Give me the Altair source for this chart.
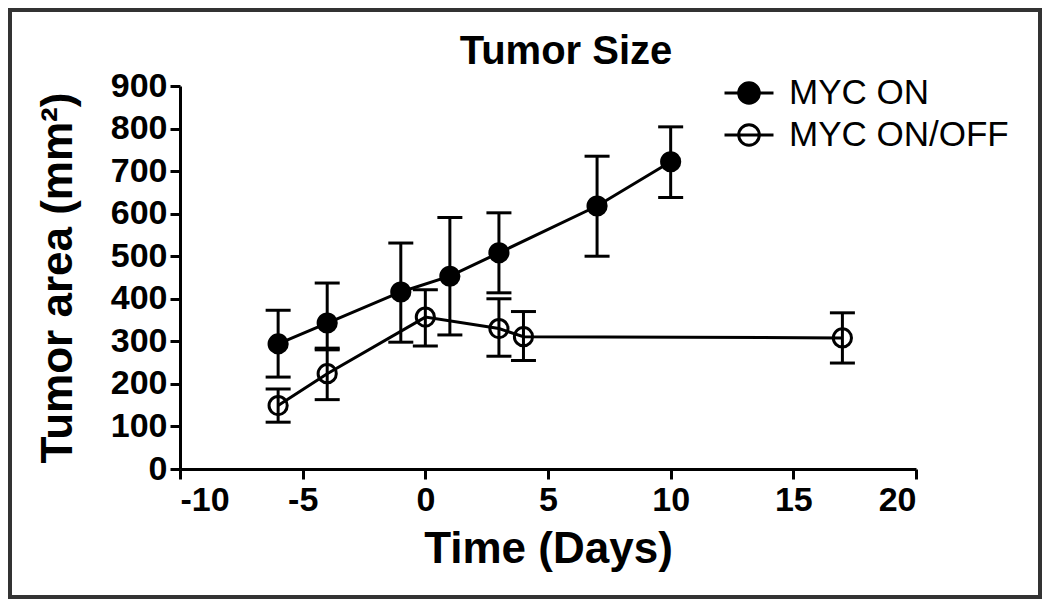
import altair as alt
import pandas as pd

# ---- data ----
on_days = [-6, -4, -1, 1, 3, 7, 10]
on_mean = [294, 343, 416, 453, 508, 618, 722]
on_upper = [373, 437, 531, 591, 602, 735, 804]
on_lower = [216, 284, 298, 315, 414, 500, 638]

off_days = [-6, -4, 0, 3, 4, 17]
off_mean = [149, 224, 357, 330, 311, 308]
off_upper = [188, 280, 421, 400, 370, 367]
off_lower = [110, 163, 289, 265, 255, 249]

series_names = ["MYC ON", "MYC ON/OFF"]
x_ticks = [-10, -5, 0, 5, 10, 15, 20]
y_ticks = [0, 100, 200, 300, 400, 500, 600, 700, 800, 900]

rows = []
for d, m, u, l in zip(on_days, on_mean, on_upper, on_lower):
    rows.append({"series": series_names[0], "day": d, "mean": m, "upper": u, "lower": l})
for d, m, u, l in zip(off_days, off_mean, off_upper, off_lower):
    rows.append({"series": series_names[1], "day": d, "mean": m, "upper": u, "lower": l})
df = pd.DataFrame(rows)

FONT = "Liberation Sans"
W, H = 736, 383

x_enc = alt.X(
    "day:Q",
    scale=alt.Scale(domain=[-10, 20], nice=False, zero=False),
    axis=alt.Axis(values=x_ticks, title="Time (Days)",
                  labelExpr="toString(datum.value)"),
)
y_scale = alt.Scale(domain=[0, 900], nice=False)

base = alt.Chart(df)

err = base.mark_rule(color="black", strokeWidth=3, opacity=1).encode(
    x=x_enc,
    y=alt.Y("lower:Q", scale=y_scale,
            axis=alt.Axis(values=y_ticks, title="Tumor area (mm²)")),
    y2="upper:Q",
)
cap_hi = base.mark_tick(color="black", orient="horizontal", size=25, thickness=3,
                        opacity=1).encode(x="day:Q", y="upper:Q")
cap_lo = base.mark_tick(color="black", orient="horizontal", size=25, thickness=3,
                        opacity=1).encode(x="day:Q", y="lower:Q")
lines = base.mark_line(color="black", strokeWidth=3).encode(
    x="day:Q", y="mean:Q", detail="series:N"
)

legend_symbol = (
    "M-1,0 L1,0 "
    "M-0.42,0 A0.42,0.42 0 1,1 0.42,0 A0.42,0.42 0 1,1 -0.42,0 Z"
)

points = base.mark_point(
    shape="circle", size=330, filled=True, stroke="black", strokeWidth=3, opacity=1
).encode(
    x="day:Q",
    y="mean:Q",
    fill=alt.Fill(
        "series:N",
        scale=alt.Scale(domain=series_names, range=["black", "transparent"]),
        legend=alt.Legend(
            title=None,
            orient="none",
            legendX=543,
            legendY=-14,
            symbolType=legend_symbol,
            symbolSize=2401,
            symbolStrokeColor="black",
            symbolStrokeWidth=3,
            symbolOpacity=1,
            labelFont=FONT,
            labelFontSize=35,
            labelFontWeight="normal",
            labelColor="black",
            labelOffset=14,
            labelLimit=400,
            clipHeight=42,
            rowPadding=0,
        ),
    ),
)

frame = alt.Chart(pd.DataFrame({"k": [0]})).mark_rect(
    fill="transparent", stroke="#333333", strokeWidth=4
).encode(
    x=alt.value(-170), x2=alt.value(W + 124),
    y=alt.value(-76), y2=alt.value(H + 128),
)

chart = (
    alt.layer(err, cap_hi, cap_lo, lines, points, frame)
    .properties(
        width=W,
        height=H,
        background="white",
        title=alt.Title(
            "Tumor Size", font=FONT, fontSize=40, fontWeight="bold",
            color="black", anchor="middle", dx=18, offset=-64,
        ),
        autosize=alt.AutoSizeParams(type="none"),
        padding={"left": 172, "top": 78, "right": 126, "bottom": 130},
    )
    .configure_view(stroke=None)
    .configure_axis(
        domainColor="black", domainWidth=3, tickColor="black", tickWidth=3,
        tickSize=10, grid=False, labelFont=FONT, labelFontSize=34,
        labelFontWeight="bold", labelColor="black", titleFont=FONT,
        titleFontSize=44, titleFontWeight="bold", titleColor="black",
        labelPadding=4,
    )
    .configure_axisX(titlePadding=10)
    .configure_axisY(titlePadding=30, labelPadding=3)
)

chart.save("out.html", embed_options={"renderer": "svg", "actions": False})
